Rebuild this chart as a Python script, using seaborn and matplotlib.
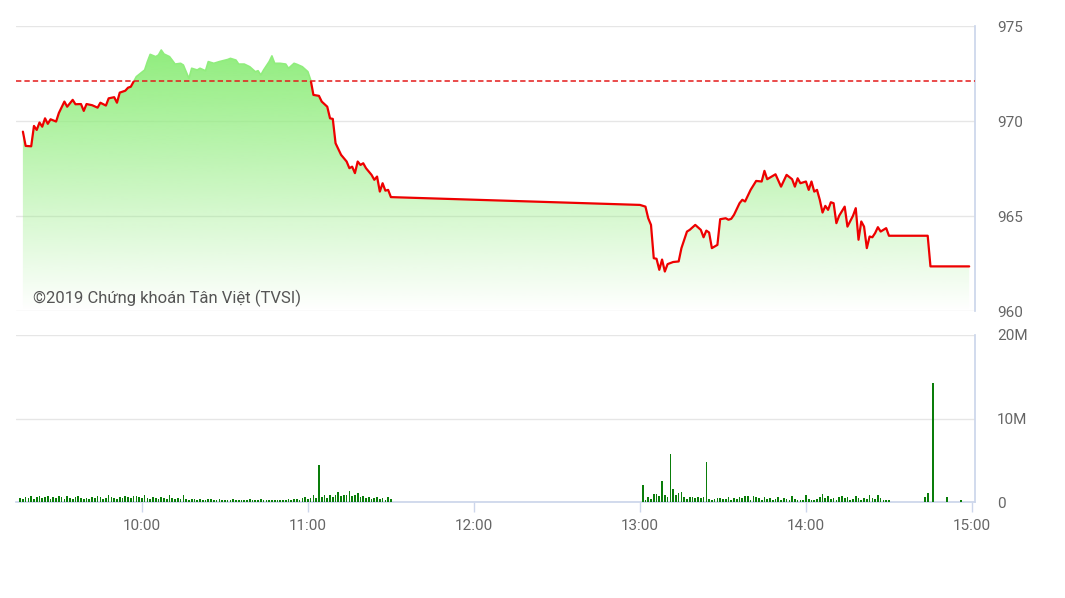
"""
VN-Index trong phiên: đường giá (vùng tô gradient) và khối lượng khớp lệnh theo phút.
"""

import matplotlib
matplotlib.use("Agg")
import matplotlib.pyplot as plt
from matplotlib.colors import to_rgb
from matplotlib.transforms import Bbox, TransformedBbox
import numpy as np
import seaborn as sns

# Giá trị (giờ:phút, điểm)
gio_gia = [
    "09:17", "09:18", "09:20", "09:21", "09:22", "09:23", "09:24", "09:25", "09:26", "09:27",
    "09:29", "09:30", "09:32", "09:33", "09:35", "09:36", "09:38", "09:39", "09:40", "09:42",
    "09:44", "09:45", "09:47", "09:48", "09:50", "09:51", "09:52", "09:54", "09:55", "09:56",
    "09:57", "09:58", "10:01", "10:02", "10:03", "10:05", "10:06", "10:07", "10:08", "10:10",
    "10:11", "10:12", "10:14", "10:15", "10:17", "10:18", "10:20", "10:21", "10:23", "10:24",
    "10:26", "10:28", "10:31", "10:32", "10:34", "10:35", "10:37", "10:39", "10:41", "10:42",
    "10:43", "10:44", "10:46", "10:47", "10:48", "10:50", "10:52", "10:53", "10:55", "10:56",
    "10:58", "11:00", "11:01", "11:02", "11:04", "11:05", "11:07", "11:08", "11:09", "11:10",
    "11:12", "11:14", "11:15", "11:16", "11:17", "11:18", "11:19", "11:20", "11:21", "11:23",
    "11:24", "11:25", "11:26", "11:27", "11:28", "11:29", "11:30",
    "13:00", "13:02", "13:03", "13:04", "13:05", "13:06", "13:07", "13:08", "13:09", "13:10",
    "13:12", "13:14", "13:15", "13:17", "13:18", "13:20", "13:22", "13:23", "13:24", "13:25",
    "13:26", "13:28", "13:29", "13:31", "13:32", "13:33", "13:34", "13:36", "13:37", "13:38",
    "13:40", "13:42", "13:44", "13:45", "13:46", "13:49", "13:51", "13:53", "13:55", "13:56",
    "13:57", "13:58", "14:00", "14:01", "14:02", "14:03", "14:04", "14:05", "14:06", "14:07",
    "14:08", "14:09", "14:10", "14:11", "14:12", "14:14", "14:15", "14:17", "14:18", "14:19",
    "14:20", "14:21", "14:22", "14:23", "14:24", "14:25", "14:26", "14:27", "14:29", "14:30",
    "14:44", "14:45", "14:59",
]
diem = [
    969.45, 968.70, 968.68, 969.75, 969.54, 969.93, 969.71, 970.15, 969.86, 970.10,
    969.98, 970.43, 971.03, 970.76, 971.12, 970.89, 970.90, 970.54, 970.90, 970.84,
    970.71, 970.97, 970.82, 971.20, 971.26, 970.97, 971.50, 971.60, 971.76, 971.81,
    972.08, 972.34, 972.69, 973.13, 973.51, 973.39, 973.48, 973.74, 973.53, 973.39,
    973.20, 973.00, 973.04, 972.95, 972.25, 972.78, 972.69, 972.78, 972.65, 973.13,
    973.04, 973.13, 973.24, 973.30, 973.21, 973.00, 973.00, 972.86, 972.60, 972.65,
    972.43, 972.69, 973.13, 973.43, 973.04, 973.04, 973.00, 972.78, 973.04, 972.99,
    972.86, 972.60, 972.17, 971.38, 971.33, 971.03, 970.76, 970.15, 970.12, 968.84,
    968.23, 967.88, 967.53, 967.61, 967.27, 967.88, 967.70, 967.79, 967.53, 967.18,
    966.92, 967.09, 966.30, 966.74, 966.35, 966.39, 966.01,
    965.60, 965.51, 964.90, 964.55, 962.80, 962.77, 962.19, 962.73, 962.10, 962.49,
    962.60, 962.63, 963.33, 964.20, 964.29, 964.55, 964.29, 963.90, 964.25, 964.15,
    963.33, 963.50, 964.85, 964.90, 964.82, 964.87, 965.08, 965.69, 965.87, 965.78,
    966.39, 966.86, 966.83, 967.39, 966.95, 967.21, 966.56, 967.18, 966.95, 966.56,
    967.00, 966.74, 966.83, 966.39, 966.83, 966.30, 966.39, 965.87, 965.20, 965.55,
    965.34, 965.74, 965.69, 964.64, 965.03, 965.51, 964.46, 965.03, 965.43, 963.77,
    964.73, 964.46, 963.33, 963.94, 963.90, 964.12, 964.43, 964.20, 964.38, 963.98,
    963.98, 962.37, 962.37,
]
THAM_CHIEU = 972.1

# Khối lượng (triệu cp) mỗi phút
kl_sang_bat_dau = "09:16"
kl_sang = [
    0.5, 0.4, 0.6, 0.5, 0.7, 0.4, 0.6, 0.7, 0.5, 0.6,
    0.7, 0.4, 0.6, 0.5, 0.7, 0.6, 0.4, 0.7, 0.5, 0.4,
    0.6, 0.7, 0.5, 0.4, 0.5, 0.4, 0.6, 0.5, 0.7, 0.6,
    0.4, 0.5, 0.9, 0.6, 0.5, 0.4, 0.6, 0.5, 0.7, 0.6,
    0.5, 0.7, 0.7, 0.6, 0.5, 0.8, 0.5, 0.4, 0.6, 0.5,
    0.4, 0.6, 0.5, 0.4, 0.9, 0.5, 0.4, 0.5, 0.4, 0.9,
    0.4, 0.3, 0.4, 0.4, 0.3, 0.4, 0.3, 0.3, 0.4, 0.4,
    0.3, 0.3, 0.4, 0.3, 0.3, 0.3, 0.3, 0.4, 0.3, 0.3,
    0.3, 0.3, 0.3, 0.4, 0.3, 0.3, 0.3, 0.4, 0.3, 0.3,
    0.3, 0.3, 0.3, 0.3, 0.3, 0.3, 0.3, 0.4, 0.3, 0.4,
    0.4, 0.3, 0.5, 0.6, 0.4, 0.5, 0.8, 0.5, 4.4, 0.6,
    0.8, 0.5, 0.9, 0.6, 0.8, 1.2, 0.7, 0.9, 0.8, 1.3,
    0.7, 0.9, 1.1, 0.6, 0.7, 0.5, 0.6, 0.4, 0.5, 0.6,
    0.4, 0.5, 0.3, 0.6, 0.4,
]
kl_chieu_bat_dau = "13:01"
kl_chieu = [
    2.0, 0.3, 0.6, 0.4, 1.0, 1.0, 0.7, 2.5, 0.9, 0.6,
    5.8, 1.5, 0.8, 1.1, 1.2, 0.6, 0.4, 0.6, 0.6, 0.5,
    0.6, 0.5, 0.6, 4.8, 0.4, 0.3, 0.4, 0.5, 0.5, 0.4,
    0.4, 0.6, 0.3, 0.5, 0.4, 0.6, 0.5, 0.7, 0.7, 0.3,
    0.7, 0.6, 0.5, 0.3, 0.6, 0.4, 0.5, 0.3, 0.4, 0.6,
    0.3, 0.5, 0.4, 0.3, 0.7, 0.4, 0.3, 0.3, 0.2, 0.8,
    0.4, 0.3, 0.3, 0.4, 0.6, 1.0, 0.5, 0.7, 0.4, 0.5,
    0.3, 0.6, 0.7, 0.5, 0.6, 0.3, 0.4, 0.7, 0.5, 0.3,
    0.5, 0.4, 0.9, 0.5, 0.4, 0.9, 0.5, 0.3, 0.2, 0.2,
]
gio_kl_atc = ["14:43", "14:44", "14:46", "14:51", "14:56"]
kl_atc = [0.6, 1.1, 14.2, 0.6, 0.3]

nhan_gio = ["10:00", "11:00", "12:00", "13:00", "14:00", "15:00"]
moc_gia = [960, 965, 970, 975]
moc_kl = [0, 10, 20]
nhan_kl = ["0", "10M", "20M"]

MAU_CHU = "#666666"
MAU_LUOI = "#e6e6e6"
MAU_TRUC = "#ccd6eb"
MAU_VUNG = "#90ed7d"


def ra_gio(s):
    h, m = s.split(":")
    return int(h) + int(m) / 60


def chuoi_phut(bat_dau, n):
    return [ra_gio(bat_dau) + i / 60 for i in range(n)]


x_gia = np.array([ra_gio(s) for s in gio_gia])
y_gia = np.array(diem)
x_kl = np.array(chuoi_phut(kl_sang_bat_dau, len(kl_sang))
                + chuoi_phut(kl_chieu_bat_dau, len(kl_chieu))
                + [ra_gio(s) for s in gio_kl_atc])
y_kl = np.array(kl_sang + kl_chieu + kl_atc)

sns.set_theme(style="white")
plt.rcParams["font.family"] = ["Roboto", "DejaVu Sans"]

X0, X1 = 9 + 14.5 / 60, 15 + 1.1 / 60

fig = plt.figure(figsize=(10.65, 5.98), dpi=100)
ax_p = fig.add_axes([0.0150, 0.4791, 0.9005, 0.4774])
ax_v = fig.add_axes([0.0150, 0.1605, 0.9005, 0.2793])

# ---- Panel giá ----
vung = ax_p.fill_between(x_gia, 960, y_gia, facecolor="none", edgecolor="none")
rgb = to_rgb(MAU_VUNG)
grad = np.zeros((256, 1, 4))
grad[:, 0, :3] = rgb
grad[:, 0, 3] = np.linspace(1, 0, 256)
anh = ax_p.imshow(grad, extent=[X0, X1, 960, y_gia.max()], aspect="auto",
                  origin="upper", zorder=1, interpolation="bicubic")
anh.set_clip_path(vung.get_paths()[0], ax_p.transData)

# đường đỏ dưới tham chiếu, phần trên tham chiếu hòa vào màu vùng
sns.lineplot(x=x_gia, y=y_gia, ax=ax_p, color="#ee0000", lw=1.6, sort=False, zorder=4)
ax_p.lines[-1].set_clip_box(TransformedBbox(Bbox([[X0, 950], [X1, THAM_CHIEU]]), ax_p.transData))
sns.lineplot(x=x_gia, y=y_gia, ax=ax_p, color=MAU_VUNG, lw=1.2, sort=False, zorder=4)
ax_p.lines[-1].set_clip_box(TransformedBbox(Bbox([[X0, THAM_CHIEU], [X1, 980]]), ax_p.transData))

ax_p.axhline(THAM_CHIEU, color="#e41a1a", lw=1.1, ls=(0, (3.5, 2)), zorder=5)

ax_p.set_xlim(X0, X1)
ax_p.set_ylim(960, 975)
ax_p.set_xticks([])
ax_p.yaxis.tick_right()
ax_p.set_yticks(moc_gia)
ax_p.set_yticklabels([str(v) for v in moc_gia])
ax_p.tick_params(axis="y", length=0, pad=16, labelsize=11, labelcolor=MAU_CHU)
ax_p.grid(axis="y", color=MAU_LUOI, lw=1)
ax_p.set_axisbelow(True)
for ten, sp in ax_p.spines.items():
    sp.set_visible(ten == "right")
ax_p.spines["right"].set_color(MAU_TRUC)
ax_p.set_xlabel("")
ax_p.set_ylabel("")

ax_p.text(0.0177, 0.047, "©2019 Chứng khoán Tân Việt (TVSI)", transform=ax_p.transAxes,
          fontsize=12, color="#555555", ha="left", va="center", zorder=6)

# ---- Panel khối lượng ----
ax_v.bar(x_kl, y_kl, width=0.6 / 60, color="#0a7d0a", linewidth=0, zorder=3)
ax_v.set_xlim(X0, X1)
ax_v.set_ylim(0, 20)
ax_v.set_xticks([ra_gio(s) for s in nhan_gio])
ax_v.set_xticklabels(nhan_gio)
ax_v.tick_params(axis="x", length=7, width=1, color=MAU_TRUC, pad=5,
                 labelsize=11, labelcolor=MAU_CHU, bottom=True)
ax_v.yaxis.tick_right()
ax_v.set_yticks(moc_kl)
ax_v.set_yticklabels(nhan_kl)
ax_v.tick_params(axis="y", length=0, pad=16, labelsize=11, labelcolor=MAU_CHU)
ax_v.grid(axis="y", color=MAU_LUOI, lw=1)
ax_v.set_axisbelow(True)
for ten, sp in ax_v.spines.items():
    sp.set_visible(ten in ("right", "bottom"))
    sp.set_color(MAU_TRUC)

fig.savefig("out.png", dpi=100)
plt.close(fig)
